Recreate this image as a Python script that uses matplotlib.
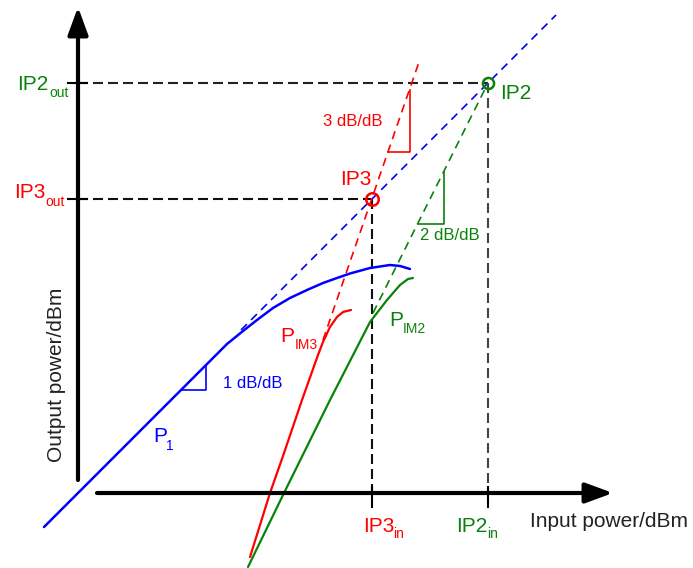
import matplotlib.pyplot as plt

plt.rcParams['font.family'] = ['Liberation Sans', 'DejaVu Sans']

# intercept points (input dBm, output dBm)
ip3 = (29.4, 29.4)
ip2 = (41.0, 41.0)

# fundamental output P1
p1_in = [-3.4, 14.9, 16.5, 17.9, 19.5, 21.2, 22.9, 24.5, 25.9, 27.2, 29.2, 31.2, 32.2, 33.2]
p1_out = [-3.4, 14.9, 16.2, 17.3, 18.5, 19.5, 20.3, 21.0, 21.5, 21.95, 22.5, 22.8, 22.7, 22.4]

# third-order intermodulation output
im3_in = [17.2, 19.2, 20.5, 22.4, 24.0, 24.5, 25.2, 25.9, 26.5, 27.3]
im3_out = [-6.4, 0.0, 3.7, 9.3, 13.8, 15.1, 16.6, 17.6, 18.1, 18.3]

# second-order intermodulation output
im2_in = [17.0, 20.6, 25.2, 29.2, 30.9, 32.2, 33.0, 33.5]
im2_out = [-7.4, 0.0, 9.3, 17.1, 19.3, 20.8, 21.4, 21.5]

# extrapolated lines (start, end)
ext1 = ([16.3, 47.8], [16.3, 47.8])
ext3 = ([24.5, 34.1], [15.3, 43.1])
ext2 = ([29.5, ip2[0]], [18.0, ip2[1]])

# slope triangles
tri1 = ([10.4, 12.8, 12.8], [10.3, 10.3, 12.6])
tri3 = ([31.0, 33.2, 33.2], [34.1, 34.1, 40.3])
tri2 = ([34.0, 36.6, 36.6], [26.9, 26.9, 32.1])

blue = '#0000ff'
red = '#ff0000'
green = '#0a820a'

fig = plt.figure(figsize=(6.93, 5.68), dpi=100)
ax = fig.add_axes([0, 0, 1, 1])
ax.set_xlim(-7.8, 61.5)
ax.set_ylim(-7.5, 49.3)
ax.axis('off')

# axes with arrows
arr = dict(arrowstyle='-|>,head_length=0.6,head_width=0.22', lw=3,
           color='black', mutation_scale=28, shrinkA=0, shrinkB=0)
ax.annotate('', xy=(0, 48.6), xytext=(0, 1.3), arrowprops=arr)
ax.annotate('', xy=(53.5, 0), xytext=(1.9, 0), arrowprops=arr)

# guide lines to the axes
dash_k = (0, (4.8, 2.4))
ax.plot([0, ip3[0]], [ip3[1], ip3[1]], color='#111111', lw=1.5, ls=dash_k)
ax.plot([ip3[0], ip3[0]], [ip3[1], 0], color='#111111', lw=1.5, ls=dash_k)
ax.plot([0, ip2[0]], [ip2[1], ip2[1]], color='#222222', lw=1.5, ls=dash_k)
ax.plot([ip2[0], ip2[0]], [ip2[1], 0], color='#444444', lw=1.5, ls=dash_k)

# ticks
for v in (ip3[1], ip2[1]):
    ax.plot([-1.0, 0.9], [v, v], color='black', lw=1.5)
for v in (ip3[0], ip2[0]):
    ax.plot([v, v], [0.6, -1.4], color='black', lw=1.5)

# extrapolations
dash_c = (0, (5, 3.5))
ax.plot(*ext1, color=blue, lw=1.2, ls=dash_c)
ax.plot(*ext3, color=red, lw=1.2, ls=dash_c)
ax.plot(*ext2, color=green, lw=1.2, ls=dash_c)

# measured curves
ax.plot(p1_in, p1_out, color=blue, lw=1.8, solid_capstyle='round', solid_joinstyle='round')
ax.plot(im3_in, im3_out, color=red, lw=1.6, solid_capstyle='round', solid_joinstyle='round')
ax.plot(im2_in, im2_out, color=green, lw=1.6, solid_capstyle='round', solid_joinstyle='round')

# slope triangles
ax.plot(*tri1, color=blue, lw=1.2)
ax.plot(*tri3, color=red, lw=1.2)
ax.plot(*tri2, color=green, lw=1.2)

# intercept circles
ax.plot(*ip3, 'o', ms=9, mfc='none', mec=red, mew=1.8)
ax.plot(*ip2, 'o', ms=8, mfc='none', mec=green, mew=1.8)


def label(x, y, main, sub, sx, sy, color):
    ax.text(x, y, main, color=color, fontsize=15, ha='left', va='baseline')
    ax.text(sx, sy, sub, color=color, fontsize=10, ha='left', va='baseline')


label(-6.1, 40.3, 'IP2', 'out', -2.9, 39.6, green)
label(-6.4, 29.5, 'IP3', 'out', -3.3, 28.7, red)
label(28.5, -3.9, 'IP3', 'in', 31.5, -4.5, red)
label(37.8, -3.9, 'IP2', 'in', 40.9, -4.5, green)
label(7.5, 5.1, 'P', '1', 8.8, 4.3, blue)
label(20.2, 15.1, 'P', 'IM3', 21.7, 14.4, red)
label(31.1, 16.7, 'P', 'IM2', 32.5, 16.0, green)

ax.text(26.2, 30.8, 'IP3', color=red, fontsize=15, ha='left', va='baseline')
ax.text(42.2, 39.4, 'IP2', color=green, fontsize=15, ha='left', va='baseline')
ax.text(14.5, 10.9, '1 dB/dB', color=blue, fontsize=12, ha='left', va='center')
ax.text(24.5, 37.2, '3 dB/dB', color=red, fontsize=12, ha='left', va='center')
ax.text(34.2, 25.7, '2 dB/dB', color=green, fontsize=12, ha='left', va='center')
ax.text(45.2, -3.4, 'Input power/dBm', color='#222222', fontsize=15, ha='left', va='baseline')
ax.text(-2.2, 11.8, 'Output power/dBm', color='#222222', fontsize=15, rotation=90,
        ha='center', va='center')

fig.savefig('out.png', dpi=100)
